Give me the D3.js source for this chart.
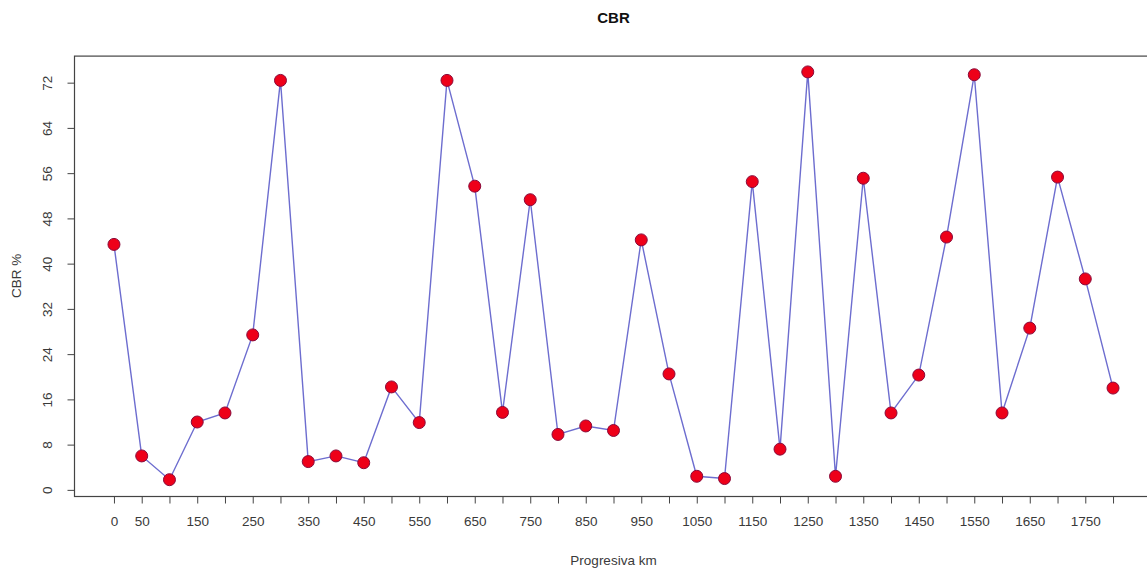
<!DOCTYPE html>
<html>
<head>
<meta charset="utf-8">
<script src="https://cdn.jsdelivr.net/npm/d3@7"></script>
<style>
  body { margin: 0; background: #fff; }
  svg text { font-family: "Liberation Sans", Arial, sans-serif; }
</style>
</head>
<body>
<svg id="chart" width="1147" height="569"></svg>
<script>
// progresiva (km) and CBR %
var progresiva = [0,50,100,150,200,250,300,350,400,450,500,550,600,650,700,750,800,850,900,
                  950,1000,1050,1100,1150,1200,1250,1300,1350,1400,1450,1500,1550,1600,1650,1700,1750,1800];
var cbr = [43.4,6.0,1.8,12.0,13.6,27.4,72.4,5.0,6.0,4.8,18.2,11.9,72.4,53.7,13.7,51.3,9.8,11.3,10.5,
           44.2,20.5,2.4,2.0,54.5,7.2,73.9,2.4,55.1,13.6,20.3,44.7,73.4,13.6,28.6,55.3,37.3,18.0];
var x_ticks = d3.range(0, 1801, 50);
var x_labels = [0,50,150,250,350,450,550,650,750,850,950,1050,1150,1250,1350,1450,1550,1650,1750];
var y_ticks = [0,8,16,24,32,40,48,56,64,72];

var svg = d3.select("#chart");
var box = {left: 74, top: 55.6, bottom: 496, right: 1153};

// R style 4% padding on both axes
var x_ext = d3.extent(progresiva), y_ext = d3.extent(cbr);
var xp = (x_ext[1] - x_ext[0]) * 0.04, yp = (y_ext[1] - y_ext[0]) * 0.04;

var x = d3.scaleLinear().domain([x_ext[0] - xp, x_ext[1] + xp]).range([box.left, box.right]);
var y = d3.scaleLinear().domain([y_ext[0] - yp, y_ext[1] + yp]).range([box.bottom, box.top]);

var data = progresiva.map(function(d, i){ return {km: d, v: cbr[i]}; });

//plot frame
svg.append("rect")
    .attr("x", box.left + 0.5).attr("y", box.top + 0.5)
    .attr("width", box.right - box.left).attr("height", box.bottom - box.top)
    .attr("fill", "none").attr("stroke", "#444").attr("stroke-width", 1.2);

//x axis
var x_axis = svg.append("g")
    .attr("transform", "translate(0," + (box.bottom + 0.5) + ")")
    .call(d3.axisBottom(x).tickValues(x_ticks).tickSize(7).tickPadding(13)
        .tickFormat(function(d){ return x_labels.indexOf(d) >= 0 ? d : ""; }));
x_axis.select(".domain").attr("stroke", "#444")
    .attr("d", "M" + x(0) + ",0H" + x(1800));
x_axis.selectAll(".tick line").attr("stroke", "#444");
x_axis.selectAll(".tick text").attr("font-size", 13.5).attr("fill", "#3a3a3a");

//y axis, labels turned like R's default
var y_axis = svg.append("g")
    .attr("transform", "translate(" + (box.left + 0.5) + ",0)")
    .call(d3.axisLeft(y).tickValues(y_ticks).tickSize(7).tickFormat(d3.format("d")));
y_axis.select(".domain").attr("stroke", "#444")
    .attr("d", "M0," + y(0) + "V" + y(72));
y_axis.selectAll(".tick line").attr("stroke", "#444");
y_axis.selectAll(".tick text")
    .attr("font-size", 13.5).attr("fill", "#3a3a3a")
    .attr("x", null).attr("dy", null)
    .attr("text-anchor", "middle")
    .attr("transform", "translate(-23,0) rotate(-90)");

//line and points
var line = d3.line().x(d => x(d.km)).y(d => y(d.v));
svg.append("path")
    .datum(data)
    .attr("d", line)
    .attr("fill", "none")
    .attr("stroke", "#6d6dcf")
    .attr("stroke-width", 1.4);

svg.selectAll(".data_dot")
    .data(data)
    .join("circle")
    .attr("class", "data_dot")
    .attr("cx", d => x(d.km))
    .attr("cy", d => y(d.v))
    .attr("r", 6)
    .attr("fill", "#ee0019")
    .attr("stroke", "#8a0a3a")
    .attr("stroke-width", 1);

//titles
var mid = (box.left + box.right) / 2;
svg.append("text").attr("x", mid).attr("y", 23)
    .attr("text-anchor", "middle").attr("font-size", 15).attr("font-weight", "bold")
    .attr("fill", "#111").text("CBR");
svg.append("text").attr("x", mid).attr("y", 565)
    .attr("text-anchor", "middle").attr("font-size", 13.5).attr("fill", "#3a3a3a")
    .text("Progresiva km");
svg.append("text")
    .attr("transform", "translate(21," + ((box.top + box.bottom) / 2) + ") rotate(-90)")
    .attr("text-anchor", "middle").attr("font-size", 13.5).attr("fill", "#3a3a3a")
    .text("CBR %");
</script>
</body>
</html>
